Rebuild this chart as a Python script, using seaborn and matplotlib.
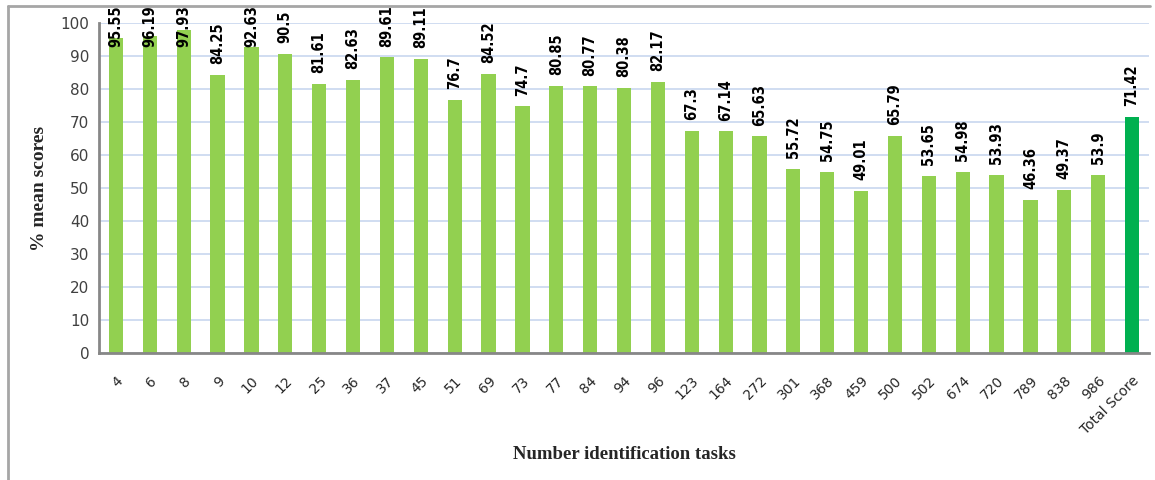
import seaborn as sns
import matplotlib.pyplot as plt
import pandas as pd
from matplotlib.lines import Line2D

# values
tasks = ["4", "6", "8", "9", "10", "12", "25", "36", "37", "45", "51", "69", "73", "77",
         "84", "94", "96", "123", "164", "272", "301", "368", "459", "500", "502", "674",
         "720", "789", "838", "986", "Total Score"]
scores = [95.55, 96.19, 97.93, 84.25, 92.63, 90.5, 81.61, 82.63, 89.61, 89.11, 76.7, 84.52,
          74.7, 80.85, 80.77, 80.38, 82.17, 67.3, 67.14, 65.63, 55.72, 54.75, 49.01, 65.79,
          53.65, 54.98, 53.93, 46.36, 49.37, 53.9, 71.42]
labels = ["95.55", "96.19", "97.93", "84.25", "92.63", "90.5", "81.61", "82.63", "89.61",
          "89.11", "76.7", "84.52", "74.7", "80.85", "80.77", "80.38", "82.17", "67.3",
          "67.14", "65.63", "55.72", "54.75", "49.01", "65.79", "53.65", "54.98", "53.93",
          "46.36", "49.37", "53.9", "71.42"]

df = pd.DataFrame({"task": tasks, "score": scores})
palette = ["#92d050"] * (len(tasks) - 1) + ["#00b050"]

sns.set_style("white")
plt.rcParams['font.family'] = ['DejaVu Sans']

fig = plt.figure(figsize=(11.55, 4.8), dpi=100)
ax = fig.add_axes([99 / 1155, 1 - 353 / 480, 1050 / 1155, 330 / 480])

sns.barplot(data=df, x="task", y="score", hue="task", palette=palette, legend=False,
            width=0.42, saturation=1, linewidth=0, edgecolor="none", ax=ax, zorder=3)

ax.set_ylim(0, 100)
ax.set_xlim(-0.5, len(tasks) - 0.5)
ax.set_yticks(range(0, 101, 10))
ax.grid(axis="y", color="#c3d3ee", linewidth=1.1, zorder=0)
ax.grid(axis="x", visible=False)
for s in ["top", "right"]:
    ax.spines[s].set_visible(False)
for s in ["left", "bottom"]:
    ax.spines[s].set_color("#878787")
    ax.spines[s].set_linewidth(2)
    ax.spines[s].set_zorder(4)
ax.tick_params(axis="y", length=4, width=1, color="#878787", labelsize=11, labelcolor="#404040", pad=3)
ax.tick_params(axis="x", length=0, labelsize=10, pad=15)
plt.setp(ax.get_xticklabels(), rotation=45, ha="right", rotation_mode="anchor")

# data labels, kept inside the plot area like the original
for i, (v, t) in enumerate(zip(scores, labels)):
    length = 2.1 * len(t)
    y = min(v + 3.3, 103.3 - length)
    ax.text(i, y, t, rotation=90, ha="center", va="bottom", fontsize=10.5,
            fontweight="bold", fontstretch="condensed", color="black", clip_on=False, zorder=5)

ax.set_ylabel("% mean scores", family="Liberation Serif", fontweight="bold", fontsize=14)
ax.set_xlabel("Number identification tasks", family="Liberation Serif", fontweight="bold",
              fontsize=13.5)
ax.xaxis.set_label_coords(525 / 1050, -(446 - 353) / 330)
ax.yaxis.set_label_coords(-(99 - 48) / 1050, (353 - 188) / 330)

# outer frame
fig.add_artist(Line2D([8 / 1155, 8 / 1155], [0, 1 - 6 / 480], color="#a6a6a6", linewidth=2))
fig.add_artist(Line2D([8 / 1155, 1150 / 1155], [1 - 6 / 480, 1 - 6 / 480], color="#a6a6a6", linewidth=2))

fig.savefig("out.png", dpi=100)
